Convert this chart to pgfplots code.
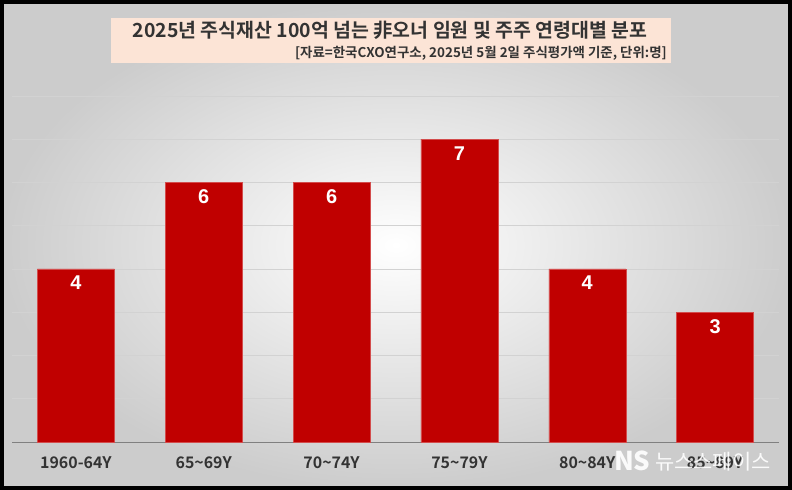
\documentclass[border=0pt]{standalone}
\usepackage{pgfplots}
\pgfplotsset{compat=1.18}
\usepackage{fontspec}
\setmainfont{Noto Sans CJK KR}[BoldFont={Noto Sans CJK KR Bold}]
\newfontfamily\arialf{Liberation Sans}
\definecolor{barred}{HTML}{C00000}
\definecolor{peach}{HTML}{FCE4D6}
\definecolor{txt}{HTML}{333333}
\definecolor{gridc}{HTML}{D2D2D2}
\begin{document}
\begin{tikzpicture}[x=1bp,y=1bp]
\shade[inner color=white, outer color=black!20] (0,0) rectangle (792,490);
\fill[peach] (111,427) rectangle (671,472);
\node[anchor=base, font=\bfseries\fontsize{19.5}{22}\selectfont, text=txt, inner sep=0] at (390,452) {2025년 주식재산 100억 넘는 非오너 임원 및 주주 연령대별 분포};
\node[anchor=base east, font=\bfseries\fontsize{13.5}{16}\selectfont, text=txt, inner sep=0] at (667,432) {[자료=한국CXO연구소, 2025년 5월 2일 주식평가액 기준, 단위:명]};
\begin{axis}[
  at={(12bp,48bp)}, anchor=south west,
  scale only axis, width=767bp, height=346bp,
  xmin=-0.5, xmax=5.5, ymin=0, ymax=8,
  ytick={1,2,...,8}, yticklabels={},
  ymajorgrids, grid style={gridc, line width=0.9bp},
  axis x line*=bottom, axis y line*=left,
  y axis line style={draw=none},
  x axis line style={draw=black!50, line width=0.9bp},
  major tick length=0pt,
  xtick=data,
  xticklabels={1960-64Y,65\textasciitilde69Y,70\textasciitilde74Y,75\textasciitilde79Y,80\textasciitilde84Y,85\textasciitilde89Y},
  xticklabel style={anchor=base, yshift=-27bp, font=\bfseries\fontsize{16}{18}\selectfont, text=txt},
  ybar, bar width=77bp, bar shift=0pt,
  /pgf/number format/assume math mode=true,
  nodes near coords,
  every node near coord/.append style={anchor=north, yshift=-7bp, inner sep=0pt, text=white, font=\arialf\bfseries\fontsize{20}{22}\selectfont},
  clip=false,
]
\addplot[fill=barred, draw=barred!70!white, line width=0.5bp] coordinates {(0,4) (1,6) (2,6) (3,7) (4,4) (5,3)};
\end{axis}
\node[anchor=base west, inner sep=0, text=white, font=\bfseries\itshape\fontsize{26}{28}\selectfont, opacity=0.9] at (614,19) {NS};
\node[anchor=base west, inner sep=0, text=white, font=\fontsize{21}{24}\selectfont, opacity=0.9] at (655,20) {뉴스스페이스};
\draw[black, line width=4bp] (2,2) rectangle (790,488);
\end{tikzpicture}
\end{document}
